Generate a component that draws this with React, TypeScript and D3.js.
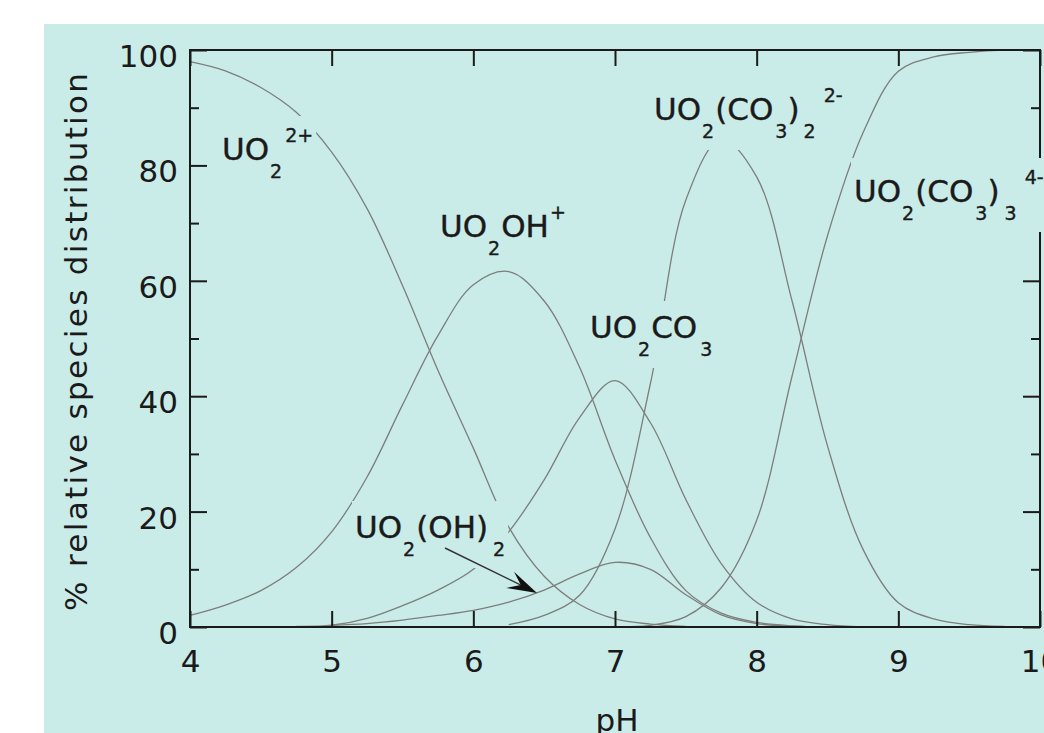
import React, { useEffect, useRef } from 'react';
import * as d3 from 'd3';

// pH grid shared by every species
const pH = [4, 4.25, 4.5, 4.75, 5, 5.25, 5.5, 5.75, 6, 6.25, 6.5, 6.75, 7, 7.25, 7.5, 7.75, 8, 8.25, 8.5, 8.75, 9, 9.25, 9.5, 9.75, 10];

// % relative species distribution (null = not drawn)
const uo2 = [98, 96.4, 93.5, 89.2, 82.3, 72.5, 59.2, 44.5, 31, 17.3, 8.8, 3.9, 1.4, 0.5, 0.1, null, null, null, null, null, null, null, null, null, null];
const uo2oh = [2, 3.8, 6.3, 10.3, 16.5, 26, 38.5, 50.5, 59.3, 61.6, 56.5, 45, 29, 15.5, 6.3, 2.4, 0.8, 0.2, 0, null, null, null, null, null, null];
const uo2oh2 = [null, null, null, null, 0.3, 0.6, 1.2, 2, 2.9, 4.3, 6.4, 9.2, 11.2, 10, 5.6, 2.1, 0.6, 0.15, 0, null, null, null, null, null, null];
const uo2co3 = [null, null, null, 0.1, 0.3, 1.5, 3.7, 6.4, 10, 16.5, 25.5, 36.3, 42.7, 35.4, 22.1, 11, 4.3, 1.4, 0.4, 0, null, null, null, null, null];
const uo2co3x2 = [null, null, null, null, null, null, null, null, null, 0.4, 2, 5.5, 17, 42.2, 74, 84.5, 78, 56.5, 31.4, 13.5, 4.2, 1.4, 0.4, 0.1, null];
const uo2co3x3 = [null, null, null, null, null, null, null, null, null, null, null, null, 0.05, 0.3, 1.8, 6.8, 18.5, 43.5, 67.8, 85.6, 96.3, 98.8, 99.6, 100, 100];

const xTicks = [4, 5, 6, 7, 8, 9, 10];
const yTicks = [0, 20, 40, 60, 80, 100];
const yMinor = [10, 30, 50, 70, 90];

type Part = { t: string; s?: 'sub' | 'sup'; dx?: number };

// species labels (pixel anchors, baseline-left)
const labels: { x: number; y: number; parts: Part[] }[] = [
    { x: 222, y: 160, parts: [{ t: 'UO' }, { t: '2', s: 'sub', dx: 1 }, { t: '2+', s: 'sup', dx: 3 }] },
    { x: 440, y: 237, parts: [{ t: 'UO' }, { t: '2', s: 'sub', dx: 1 }, { t: 'OH', dx: 1 }, { t: '+', s: 'sup', dx: 1 }] },
    { x: 590, y: 338, parts: [{ t: 'UO' }, { t: '2', s: 'sub', dx: 1 }, { t: 'CO', dx: 1 }, { t: '3', s: 'sub', dx: 3 }] },
    { x: 355, y: 538, parts: [{ t: 'UO' }, { t: '2', s: 'sub', dx: 1 }, { t: '(OH)', dx: 1 }, { t: '2', s: 'sub', dx: 5 }] },
    { x: 654, y: 120, parts: [{ t: 'UO' }, { t: '2', s: 'sub', dx: 1 }, { t: '(CO', dx: 1 }, { t: '3', s: 'sub', dx: 2 }, { t: ')' }, { t: '2', s: 'sub', dx: 4 }, { t: '2-', s: 'sup', dx: 8 }] },
    { x: 854, y: 202, parts: [{ t: 'UO' }, { t: '2', s: 'sub', dx: 1 }, { t: '(CO', dx: 1 }, { t: '3', s: 'sub', dx: 2 }, { t: ')' }, { t: '3', s: 'sub', dx: 5 }, { t: '4-', s: 'sup', dx: 8 }] },
];

const FONT = '"DejaVu Sans", Verdana, sans-serif';
const BG = '#caece8';
const INK = '#1a1a1a';

const App = () => {
    const ref = useRef<SVGSVGElement>(null);

    useEffect(() => {
        document.body.style.margin = '0';
        document.body.style.overflow = 'hidden';

        const svg = d3.select(ref.current);
        svg.selectAll('*').remove();

        // background panel
        svg.append('rect').attr('width', 1044).attr('height', 733).attr('fill', '#fff');
        svg.append('rect').attr('x', 44).attr('y', 24).attr('width', 1000).attr('height', 709).attr('fill', BG);

        const x = d3.scaleLinear().domain([4, 10]).range([190, 1040]);
        const y = d3.scaleLinear().domain([0, 100]).range([627, 50]);

        // curves
        const line = d3.line<[number, number | null]>()
            .defined(d => d[1] != null)
            .x(d => x(d[0]))
            .y(d => y(d[1] as number))
            .curve(d3.curveCatmullRom.alpha(0.5));

        const series = [uo2, uo2oh, uo2oh2, uo2co3, uo2co3x2, uo2co3x3];
        svg.append('g')
            .selectAll('path')
            .data(series)
            .enter()
            .append('path')
            .attr('d', vals => line(pH.map((p, i) => [p, vals[i]] as [number, number | null])))
            .attr('fill', 'none')
            .attr('stroke', '#7d7d7d')
            .attr('stroke-width', 1.3);

        // axes (ticks inward)
        const styleAxis = (g: any) => {
            g.select('.domain').remove();
            g.selectAll('line').attr('stroke', INK).attr('stroke-width', 2);
            g.attr('font-family', FONT).attr('font-size', 31);
            g.selectAll('text').attr('fill', INK);
        };

        svg.append('g')
            .attr('transform', `translate(0,${y(0)})`)
            .call(d3.axisBottom(x).tickValues(xTicks).tickSize(-16).tickSizeOuter(0).tickFormat(d3.format('d')) as any)
            .call(styleAxis)
            .selectAll('text').attr('y', 45).attr('dy', 0);

        svg.append('g')
            .attr('transform', `translate(0,${y(100)})`)
            .call(d3.axisTop(x).tickValues(xTicks).tickSize(-16).tickSizeOuter(0).tickFormat(() => '') as any)
            .call(styleAxis);

        svg.append('g')
            .attr('transform', `translate(${x(4)},0)`)
            .call(d3.axisLeft(y).tickValues(yTicks).tickSize(-17).tickSizeOuter(0).tickFormat(d3.format('d')) as any)
            .call(styleAxis)
            .selectAll('text').attr('x', -12).attr('dy', 0).attr('y', 16.5);

        svg.append('g')
            .attr('transform', `translate(${x(4)},0)`)
            .call(d3.axisLeft(y).tickValues(yMinor).tickSize(-9).tickSizeOuter(0).tickFormat(() => '') as any)
            .call(styleAxis);

        svg.append('g')
            .attr('transform', `translate(${x(10)},0)`)
            .call(d3.axisRight(y).tickValues(yTicks).tickSize(-17).tickSizeOuter(0).tickFormat(() => '') as any)
            .call(styleAxis);

        svg.append('g')
            .attr('transform', `translate(${x(10)},0)`)
            .call(d3.axisRight(y).tickValues(yMinor).tickSize(-9).tickSizeOuter(0).tickFormat(() => '') as any)
            .call(styleAxis);

        // frame
        svg.append('rect')
            .attr('x', x(4)).attr('y', y(100))
            .attr('width', x(10) - x(4)).attr('height', y(0) - y(100))
            .attr('fill', 'none').attr('stroke', INK).attr('stroke-width', 2);

        // species labels, each on a background box that masks the lines
        labels.forEach(lb => {
            const g = svg.append('g');
            const bg = g.append('rect').attr('fill', BG);
            const txt = g.append('text')
                .attr('x', lb.x).attr('y', lb.y)
                .attr('font-family', FONT).attr('font-size', 31)
                .attr('fill', INK).attr('stroke', INK).attr('stroke-width', 0.4);
            let shift = 0;
            lb.parts.forEach(p => {
                const target = p.s === 'sub' ? 18 : p.s === 'sup' ? -18 : 0;
                txt.append('tspan')
                    .attr('dy', target - shift)
                    .attr('dx', p.dx || 0)
                    .attr('font-size', p.s ? 19 : 31)
                    .text(p.t);
                shift = target;
            });
            const b = (txt.node() as SVGTextElement).getBBox();
            bg.attr('x', b.x - 3).attr('y', b.y - 8).attr('width', b.width + 6).attr('height', b.height + 16);
        });

        // arrow to UO2(OH)2
        const tail = [445, 548], tip = [537, 593];
        const ang = Math.atan2(tip[1] - tail[1], tip[0] - tail[0]) * 180 / Math.PI;
        svg.append('line')
            .attr('x1', tail[0]).attr('y1', tail[1])
            .attr('x2', tip[0] - 14 * Math.cos(ang * Math.PI / 180)).attr('y2', tip[1] - 14 * Math.sin(ang * Math.PI / 180))
            .attr('stroke', '#333').attr('stroke-width', 1.4);
        svg.append('path')
            .attr('d', 'M0,0 L-30,-9 L-18,0 L-30,9 Z')
            .attr('transform', `translate(${tip[0]},${tip[1]}) rotate(${ang})`)
            .attr('fill', '#111');

        // axis titles
        svg.append('text')
            .attr('transform', 'translate(87,342) rotate(-90)')
            .attr('text-anchor', 'middle')
            .attr('font-family', FONT).attr('font-size', 31).attr('fill', INK)
            .attr('textLength', 538).attr('lengthAdjust', 'spacing')
            .text('% relative species distribution');

        svg.append('text')
            .attr('x', 617).attr('y', 731)
            .attr('text-anchor', 'middle')
            .attr('font-family', FONT).attr('font-size', 31).attr('fill', INK)
            .text('pH');
    }, []);

    return <svg ref={ref} width={1044} height={733} style={{ position: 'absolute', left: 0, top: 0, display: 'block' }} />;
};

export default App;
